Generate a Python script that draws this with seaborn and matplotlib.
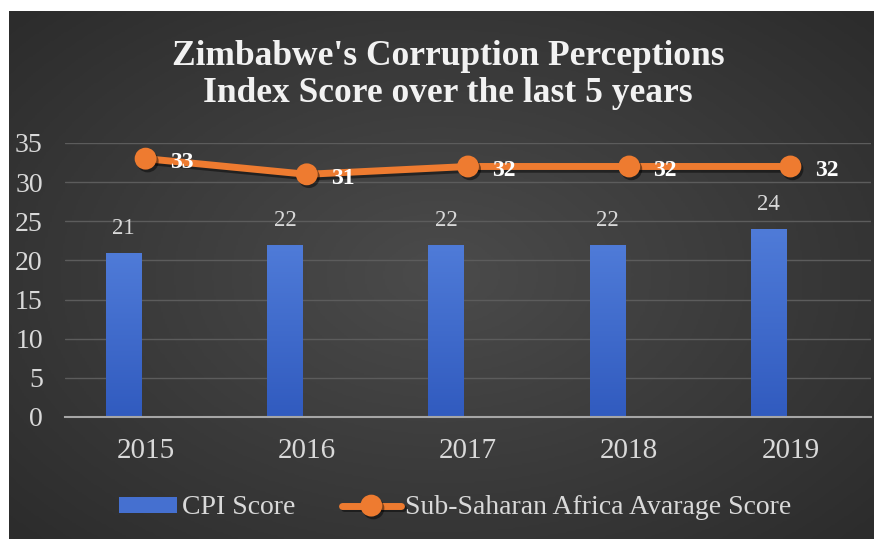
import numpy as np
import pandas as pd
import seaborn as sns
import matplotlib.pyplot as plt
from matplotlib import patheffects as pe
from matplotlib.colors import LinearSegmentedColormap

years = ['2015', '2016', '2017', '2018', '2019']
cpi_score = [21, 22, 22, 22, 24]
ssa_score = [33, 31, 32, 32, 32]

df = pd.DataFrame({'Year': years,
                   'CPI Score': cpi_score,
                   'Sub-Saharan Africa Avarage Score': ssa_score})

sns.set_theme(style='white')
plt.rcParams['font.family'] = ['Liberation Serif', 'DejaVu Serif']

orange = '#ee7b30'
blue = '#4570d0'

fig = plt.figure(figsize=(8.74, 5.39), dpi=100, facecolor='white')

# dark radial backdrop like the Excel style
bg = fig.add_axes([9 / 874, 0, 1 - 9 / 874, 1 - 11 / 539], zorder=-10)
yy, xx = np.mgrid[-1:1:300j, -1:1:400j]
r = np.sqrt((xx * 0.95) ** 2 + (yy * 0.9) ** 2)
bg_cmap = LinearSegmentedColormap.from_list('bg', ['#4b4b4b', '#2c2c2c'])
bg.imshow(r, cmap=bg_cmap, aspect='auto', vmin=0, vmax=1.3)
bg.axis('off')

ax = fig.add_axes([65 / 874, 1 - 417 / 539, (871 - 65) / 874, (417 - 143) / 539])
ax.patch.set_alpha(0)

sns.barplot(data=df, x='Year', y='CPI Score', color=blue, width=0.22,
            saturation=1, label='CPI Score', ax=ax, zorder=2)

# bars sit left of the category centre (clustered bar slot)
bar_cmap = LinearSegmentedColormap.from_list('bar', ['#315bbf', '#4f7bd8'])
grad = np.linspace(0, 1, 100).reshape(-1, 1)
for p in ax.patches:
    p.set_x(p.get_x() - 0.136)
    p.set_edgecolor('none')
    x0, y0, w, h = p.get_x(), p.get_y(), p.get_width(), p.get_height()
    im = ax.imshow(grad, extent=[x0, x0 + w, y0, y0 + h], origin='lower',
                   cmap=bar_cmap, aspect='auto', zorder=2.1)
    im.set_clip_path(p)

ax.bar_label(ax.containers[0], padding=10, fontsize=16.5, color='#d9d9d9')

sns.pointplot(data=df, x='Year', y='Sub-Saharan Africa Avarage Score',
              color=orange, markers='o', markersize=12, linewidth=5,
              errorbar=None, label='Sub-Saharan Africa Avarage Score', ax=ax)
for ln in ax.lines:
    ln.set_zorder(4)
    ln.set_path_effects([pe.SimpleLineShadow(offset=(1.5, -2), alpha=0.45, shadow_color='black'),
                         pe.Normal()])

for i, v in enumerate(ssa_score):
    ax.annotate(str(v), (i, v), xytext=(26, -3), textcoords='offset points',
                ha='center', va='center', fontsize=17, fontweight='bold',
                color='white', zorder=5)

ax.set_xlim(-0.5, 4.5)
ax.set_ylim(0, 35)
ax.set_yticks(range(0, 36, 5))
ax.set_xlabel('')
ax.set_ylabel('')
ax.yaxis.grid(True, color='#5c5c5c', lw=1)
ax.set_axisbelow(True)
for s in ['top', 'right', 'left']:
    ax.spines[s].set_visible(False)
ax.spines['bottom'].set_color('#a6a6a6')
ax.spines['bottom'].set_linewidth(1.5)
ax.tick_params(axis='y', labelsize=20, colors='#d9d9d9', length=0, pad=16)
ax.tick_params(axis='x', labelsize=21, colors='#d9d9d9', length=0, pad=15)

fig.text(448 / 874, 1 - 75 / 539,
         "Zimbabwe's Corruption Perceptions\nIndex Score over the last 5 years",
         ha='center', va='center', fontsize=25.5, fontweight='bold',
         color='#f2f2f2', linespacing=1.15)

handles, labels = ax.get_legend_handles_labels()
if ax.get_legend() is not None:
    ax.get_legend().remove()
order = [labels.index('CPI Score'), labels.index('Sub-Saharan Africa Avarage Score')]
fig.legend([handles[k] for k in order], [labels[k] for k in order],
           loc='center', bbox_to_anchor=(455 / 874, 1 - 508 / 539),
           ncol=2, frameon=False, fontsize=20, labelcolor='#d9d9d9',
           handlelength=2.1, handleheight=0.5, handletextpad=0.15, columnspacing=1.7)

fig.savefig('out.png', dpi=100, facecolor='white')
